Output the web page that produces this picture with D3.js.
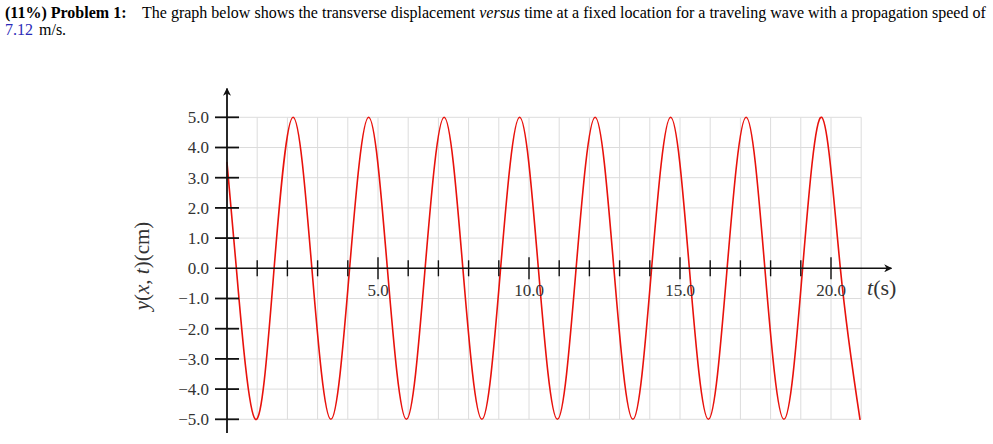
<!DOCTYPE html>
<meta charset="utf-8">
<head>
	<style type="text/css">
		body { margin: 0; background: #fff; }
		.head { font-family: "Liberation Serif", serif; font-size: 16px; fill: #000; }
		.tick-label { font-family: "Liberation Serif", serif; font-size: 17px; fill: #333; }
		.axis-title { font-family: "Liberation Serif", serif; fill: #333; }
		.grid line { stroke: #dcdcdc; stroke-width: 1; }
	</style>
	<title>Transverse displacement versus time</title>
</head>

<script src="https://cdn.jsdelivr.net/npm/d3@7"></script>

<svg width="993" height="444" id="svg1"></svg>

<script>
	// values
	const yTicks = [-5, -4, -3, -2, -1, 0, 1, 2, 3, 4, 5];
	const yTickLabels = ['\u22125.0', '\u22124.0', '\u22123.0', '\u22122.0', '\u22121.0', '0.0', '1.0', '2.0', '3.0', '4.0', '5.0'];
	const xTicks = [1, 2, 3, 4, 5, 6, 7, 8, 9, 10, 11, 12, 13, 14, 15, 16, 17, 18, 19, 20];
	const xLabelTicks = [5, 10, 15, 20];
	const xTickLabels = ['5.0', '10.0', '15.0', '20.0'];
	const xGrid = [1, 2, 3, 4, 5, 6, 7, 8, 9, 10, 11, 12, 13, 14, 15, 16, 17, 18, 19, 20, 21];

	// displacement (cm) at time t (s): start, zero crossings, peaks and troughs
	const waveT = [0, 0.31, 0.94, 1.56, 2.19, 2.81, 3.44, 4.06, 4.69, 5.31, 5.94, 6.56, 7.19, 7.81,
		8.44, 9.06, 9.69, 10.31, 10.94, 11.56, 12.19, 12.81, 13.44, 14.06, 14.69, 15.31, 15.94,
		16.56, 17.19, 17.81, 18.44, 19.06, 19.69, 20.31, 20.96];
	const waveY = [3.5, 0, -5, 0, 5, 0, -5, 0, 5, 0, -5, 0, 5, 0,
		-5, 0, 5, 0, -5, 0, 5, 0, -5, 0, 5, 0, -5,
		0, 5, 0, -5, 0, 5, 0, -5];

	const svg1 = d3.select('#svg1');

	// header text
	const line1 = svg1.append('text').attr('class', 'head').attr('x', 5).attr('y', 18);
	line1.append('tspan').attr('font-weight', 'bold').text('(11%) Problem 1:');
	const line1b = svg1.append('text').attr('class', 'head').attr('x', 142).attr('y', 18);
	line1b.append('tspan').text('The graph below shows the transverse displacement ');
	line1b.append('tspan').attr('font-style', 'italic').text('versus');
	line1b.append('tspan').text(' time at a fixed location for a traveling wave with a propagation speed of');

	const line2 = svg1.append('text').attr('class', 'head').attr('font-size', 17).attr('x', 5).attr('y', 35);
	line2.append('tspan').attr('fill', '#2a2ab8').text('7.12');
	line2.append('tspan').attr('dx', 2).text(' m/s.');

	// scales
	const x = d3.scaleLinear().domain([0, 22]).range([227, 227 + 22 * 30.2]);
	const y = d3.scaleLinear().domain([-5, 5]).range([419.3, 117.3]);

	// grid
	const grid = svg1.append('g').attr('class', 'grid');
	grid.selectAll('line.v')
		.data(xGrid)
		.enter()
			.append('line')
				.attr('class', 'v')
				.attr('x1', d => x(d)).attr('x2', d => x(d))
				.attr('y1', y(-5)).attr('y2', y(5));
	grid.selectAll('line.h')
		.data(yTicks)
		.enter()
			.append('line')
				.attr('class', 'h')
				.attr('x1', x(0)).attr('x2', x(21))
				.attr('y1', d => y(d)).attr('y2', d => y(d));

	// wave
	const wave = waveT.map((t, i) => [t, waveY[i]]);
	const line = d3.line()
		.x(d => x(d[0]))
		.y(d => y(d[1]))
		.curve(d3.curveNatural);

	svg1.append('path')
		.datum(wave)
		.attr('fill', 'none')
		.attr('stroke', '#e8120c')
		.attr('stroke-width', 1.6)
		.attr('stroke-linecap', 'round')
		.attr('d', line);

	// arrow head
	svg1.append('defs').append('marker')
		.attr('id', 'arrow')
		.attr('viewBox', '0 0 10 10')
		.attr('refX', 9).attr('refY', 5)
		.attr('markerWidth', 8).attr('markerHeight', 8)
		.attr('markerUnits', 'userSpaceOnUse')
		.attr('orient', 'auto')
		.append('path')
			.attr('d', 'M0,0 L10,5 L0,10 L3,5 Z')
			.attr('fill', '#111');

	const axes = svg1.append('g').attr('stroke', '#111');

	// x axis
	axes.append('line')
		.attr('x1', x(0) - 12).attr('x2', x(22))
		.attr('y1', y(0)).attr('y2', y(0))
		.attr('stroke-width', 1.6)
		.attr('marker-end', 'url(#arrow)');
	axes.selectAll('line.xt')
		.data(xTicks)
		.enter()
			.append('line')
				.attr('class', 'xt')
				.attr('x1', d => x(d)).attr('x2', d => x(d))
				.attr('y1', d => y(0) - (d % 5 == 0 ? 11 : 8))
				.attr('y2', d => y(0) + (d % 5 == 0 ? 11 : 8))
				.attr('stroke-width', 1.4);

	// y axis
	axes.append('line')
		.attr('x1', x(0)).attr('x2', x(0))
		.attr('y1', y(-5.45)).attr('y2', y(5.95))
		.attr('stroke-width', 1.8)
		.attr('marker-end', 'url(#arrow)');
	axes.selectAll('line.yt')
		.data(yTicks.filter(d => d != 0))
		.enter()
			.append('line')
				.attr('class', 'yt')
				.attr('x1', x(0) - 12).attr('x2', x(0) + 12)
				.attr('y1', d => y(d)).attr('y2', d => y(d))
				.attr('stroke-width', 1.8);

	// tick labels
	svg1.append('g').selectAll('text')
		.data(yTicks)
		.enter()
			.append('text')
				.attr('class', 'tick-label')
				.attr('text-anchor', 'end')
				.attr('x', x(0) - 18)
				.attr('y', d => y(d))
				.attr('dy', '0.35em')
				.text((d, i) => yTickLabels[i]);

	svg1.append('g').selectAll('text')
		.data(xLabelTicks)
		.enter()
			.append('text')
				.attr('class', 'tick-label')
				.attr('text-anchor', 'middle')
				.attr('x', d => x(d))
				.attr('y', 295.5)
				.text((d, i) => xTickLabels[i]);

	// axis titles
	const tTitle = svg1.append('text')
		.attr('class', 'axis-title')
		.attr('font-size', 22)
		.attr('x', 867).attr('y', 295);
	tTitle.append('tspan').attr('font-style', 'italic').text('t');
	tTitle.append('tspan').text('(s)');

	const yTitle = svg1.append('text')
		.attr('class', 'axis-title')
		.attr('font-size', 21)
		.attr('text-anchor', 'middle')
		.attr('transform', 'translate(149,266) rotate(-90)');
	yTitle.append('tspan').attr('font-style', 'italic').text('y');
	yTitle.append('tspan').text('(');
	yTitle.append('tspan').attr('font-style', 'italic').text('x');
	yTitle.append('tspan').text(', ');
	yTitle.append('tspan').attr('font-style', 'italic').text('t');
	yTitle.append('tspan').text(')(cm)');
</script>
